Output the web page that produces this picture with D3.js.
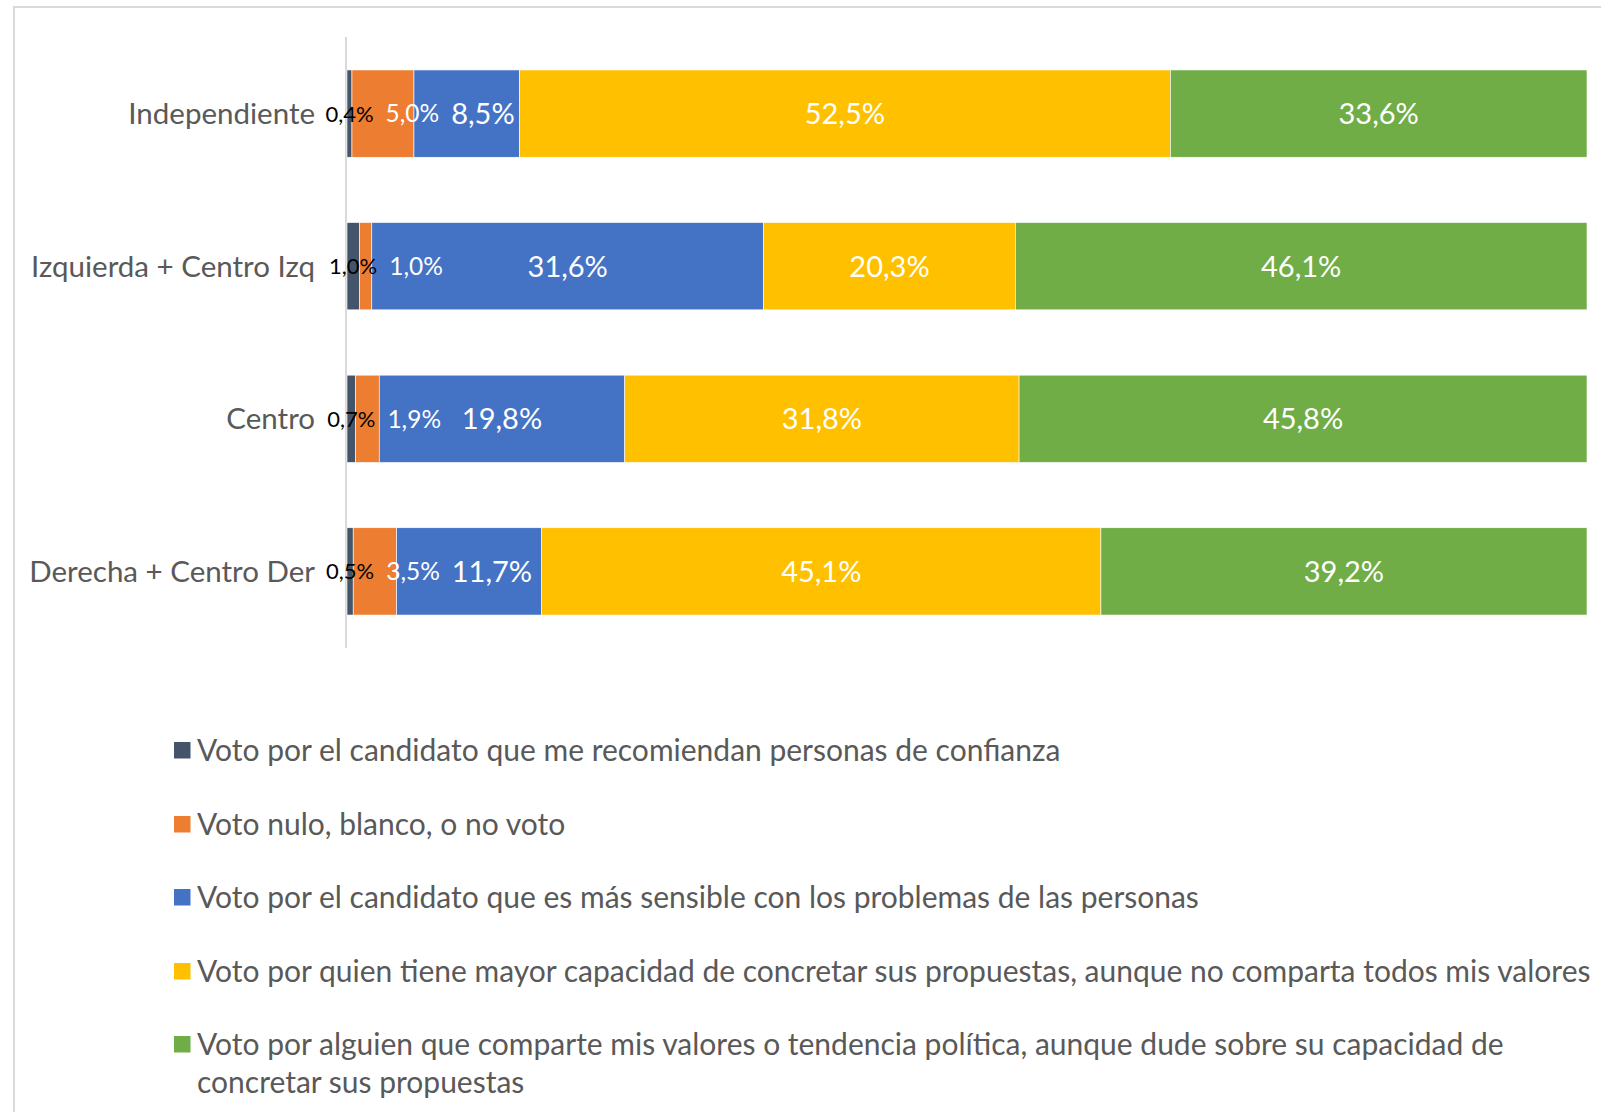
<!DOCTYPE html>
<html>
<head>
<meta charset="utf-8">
<script src="https://cdn.jsdelivr.net/npm/d3@7"></script>
<style>
  html, body { margin: 0; padding: 0; background: #fff; }
  svg { display: block; font-family: Lato, "Open Sans", sans-serif; }
</style>
</head>
<body>
<svg id="chart" width="1601" height="1112"></svg>
<script>
// ---- data ----
const categories = ["Independiente", "Izquierda + Centro Izq", "Centro", "Derecha + Centro Der"];
const seriesNames = [
  "Voto por el candidato que me recomiendan personas de confianza",
  "Voto nulo, blanco, o no voto",
  "Voto por el candidato que es más sensible con los problemas de las personas",
  "Voto por quien tiene mayor capacidad de concretar sus propuestas, aunque no comparta todos mis valores",
  "Voto por alguien que comparte mis valores o tendencia política, aunque dude sobre su capacidad de concretar sus propuestas"
];
const recomiendan = [0.4, 1.0, 0.7, 0.5];
const nulo        = [5.0, 1.0, 1.9, 3.5];
const sensible    = [8.5, 31.6, 19.8, 11.7];
const capacidad   = [52.5, 20.3, 31.8, 45.1];
const valores     = [33.6, 46.1, 45.8, 39.2];
const seriesValues = [recomiendan, nulo, sensible, capacidad, valores];
const colors = ["#44546A", "#ED7D31", "#4472C4", "#FFC000", "#70AD47"];
const labelColors = ["#000000", "#ffffff", "#ffffff", "#ffffff", "#ffffff"];
const labelSizes = [22, 24.5, 29, 29, 29];

const fmt = v => v.toFixed(1).replace(".", ",") + "%";

const svg = d3.select("#chart");

// chart frame
svg.append("rect")
  .attr("x", 14).attr("y", 7)
  .attr("width", 1700).attr("height", 1200)
  .attr("fill", "none").attr("stroke", "#d9d9d9").attr("stroke-width", 2);

const x = d3.scaleLinear().domain([0, 100]).range([347, 1587]);
const y = d3.scaleBand().domain(categories).range([37, 648])
  .paddingInner(0.428).paddingOuter(0.216);

// stacked data
const rows = categories.map((c, i) => {
  const r = { cat: c };
  seriesValues.forEach((s, k) => r["s" + k] = s[i]);
  return r;
});
const keys = seriesValues.map((_, k) => "s" + k);
const stacked = d3.stack().keys(keys)(rows);

// axis line
svg.append("line")
  .attr("x1", 346).attr("x2", 346)
  .attr("y1", 37).attr("y2", 648)
  .attr("stroke", "#d9d9d9").attr("stroke-width", 2);

// bars
const groups = svg.selectAll("g.series").data(stacked).join("g")
  .attr("class", "series").attr("fill", (d, i) => colors[i]);
groups.selectAll("rect").data(d => d).join("rect")
  .attr("x", d => x(d[0]))
  .attr("width", d => x(d[1]) - x(d[0]))
  .attr("y", d => y(d.data.cat))
  .attr("height", y.bandwidth())
  .attr("stroke", "#ffffff").attr("stroke-width", 0.6);

// category labels
svg.append("g").selectAll("text").data(categories).join("text")
  .attr("x", 315)
  .attr("y", d => y(d) + y.bandwidth() / 2)
  .attr("dy", "0.36em")
  .attr("text-anchor", "end")
  .attr("fill", "#595959")
  .attr("font-size", 29.5)
  .text(d => d);

// data labels with simple left-to-right collision avoidance
const labelG = svg.append("g");
categories.forEach((cat, ci) => {
  let prevRight = -Infinity;
  stacked.forEach((layer, k) => {
    const d = layer[ci];
    const cx = (x(d[0]) + x(d[1])) / 2;
    const t = labelG.append("text")
      .attr("y", y(cat) + y.bandwidth() / 2)
      .attr("dy", "0.36em")
      .attr("text-anchor", "middle")
      .attr("fill", labelColors[k])
      .attr("font-size", labelSizes[k])
      .text(fmt(seriesValues[k][ci]));
    const w = t.node().getComputedTextLength();
    let c = cx;
    if (c - w / 2 < prevRight + 12) c = prevRight + 12 + w / 2;
    t.attr("x", c);
    prevRight = c + w / 2;
  });
});

// legend
const legendY = [750, 824, 897, 971, 1044];
const lg = svg.append("g");
seriesNames.forEach((name, k) => {
  const cy = legendY[k];
  lg.append("rect")
    .attr("x", 174).attr("y", cy - 8)
    .attr("width", 16.5).attr("height", 16.5)
    .attr("fill", colors[k]);
  const t = lg.append("text")
    .attr("x", 197).attr("y", cy)
    .attr("dy", "0.36em")
    .attr("fill", "#595959")
    .attr("font-size", 30);
  // wrap words to max width
  const words = name.split(" ");
  let line = [];
  let tspan = t.append("tspan").attr("x", 197);
  words.forEach(w => {
    line.push(w);
    tspan.text(line.join(" "));
    if (tspan.node().getComputedTextLength() > 1410 && line.length > 1) {
      line.pop();
      tspan.text(line.join(" "));
      line = [w];
      tspan = t.append("tspan").attr("x", 197).attr("dy", 38).text(w);
    }
  });
});
</script>
</body>
</html>
